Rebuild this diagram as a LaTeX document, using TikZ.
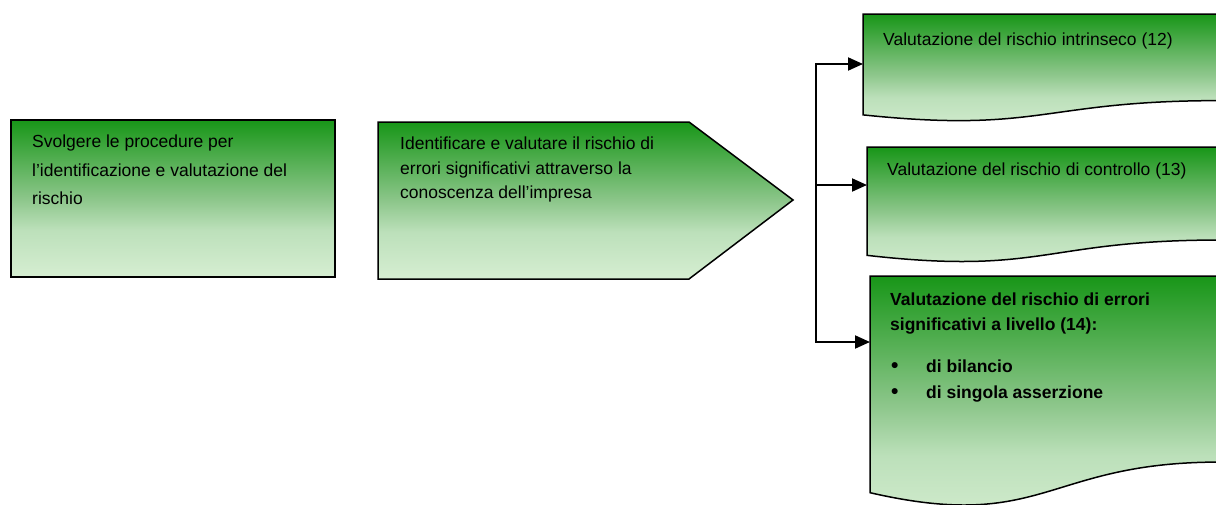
\documentclass[tikz,border=0pt]{standalone}
\usepackage{fontspec}
\setmainfont{Liberation Sans}
\usepackage{tikz}
\usetikzlibrary{arrows.meta}
\usetikzlibrary{positioning, calc}
\definecolor{gtop}{RGB}{24,150,24}
\definecolor{gmid}{RGB}{140,198,138}
\definecolor{glow}{RGB}{188,224,186}
\definecolor{gbot}{RGB}{214,238,210}
\pgfdeclareverticalshading{greenfade}{100bp}{color(0bp)=(gbot); color(25bp)=(gbot); color(40bp)=(glow); color(50bp)=(gmid); color(75bp)=(gtop); color(100bp)=(gtop)}
\tikzset{
    frame/.style = {inner sep=0pt, outer sep=0pt, anchor=north west},
    box_line/.style = {draw=black, line width=1.5pt, shading=greenfade},
    label_txt/.style = {inner sep=0pt, align=left,
        font={\fontsize{17.5}{24.5}\selectfont}},
    link/.style = {line width=2pt},
}
% shape with a wavy lower edge, drawn on the frame of a node
\newcommand{\docshape}[1]{%
    \draw[box_line] (#1.north west) -- (#1.north east)
        -- ($(#1.north east)!0.802!(#1.south east)$)
        .. controls ($(#1.north)!0.802!(#1.south)$) and ($(#1.north)!1.107!(#1.south)$)
        .. ($(#1.north west)!0.934!(#1.south west)$) -- cycle;}
\newcommand{\bigdot}{\makebox[35pt][l]{\fontsize{21}{21}\selectfont\textbullet}}

\begin{document}
\begin{tikzpicture}[x=1pt, y=-1pt, >={Triangle[length=15pt,width=13pt]}]
        \clip (0,0) rectangle (1216,504);
        \node [frame, minimum width=324pt, minimum height=157pt] (proc) at (11,120) {};
        \node [frame, minimum width=311pt, minimum height=157pt] (ident) at (378,122) {};
        \coordinate (tip) at (793,200);
        \node [frame, minimum width=357pt, minimum height=108pt] (intr) at (863,14) {};
        \node [frame, minimum width=353pt, minimum height=116pt] (ctrl) at (867,147) {};
        \node [frame, minimum width=350pt, minimum height=232pt] (errs) at (870,276) {};

        \draw [box_line, line width=2.4pt] (proc.north west) rectangle (proc.south east);
        \draw [box_line] (ident.north west) -- (ident.north east) -- (tip)
            -- (ident.south east) -- (ident.south west) -- cycle;
        \docshape{intr}
        \docshape{ctrl}
        \docshape{errs}

        \node [label_txt, font={\fontsize{17.5}{28.5}\selectfont},
            below right=15pt and 21pt of proc.north west] (proc_txt)
            {Svolgere le procedure per\\l’identificazione e valutazione del\\rischio};
        \node [label_txt, below right=15pt and 22pt of ident.north west] (ident_txt)
            {Identificare e valutare il rischio di\\errori significativi attraverso la\\conoscenza dell’impresa};
        \node [label_txt, below right=19pt and 20pt of intr.north west] (intr_txt)
            {Valutazione del rischio intrinseco (12)};
        \node [label_txt, below right=16pt and 20pt of ctrl.north west] (ctrl_txt)
            {Valutazione del rischio di controllo (13)};
        \node [label_txt, font={\fontsize{17.5}{24.5}\selectfont\bfseries},
            below right=17pt and 20pt of errs.north west] (errs_txt)
            {Valutazione del rischio di errori\\significativi a livello (14):\\[17.5pt]
             \hspace*{1pt}\bigdot di bilancio\\[1.5pt]
             \hspace*{1pt}\bigdot di singola asserzione};

        % bracket to the three boxes
        \coordinate (jtop) at (816,64);
        \coordinate (jmid) at (816,185);
        \coordinate (jbot) at (816,342);
        \draw [link, <->] (jtop -| intr.west) -- (jtop) -- (jbot) -- (jbot -| errs.west);
        \draw [link, ->] (jmid) -- (jmid -| ctrl.west);
\end{tikzpicture}
\end{document}
